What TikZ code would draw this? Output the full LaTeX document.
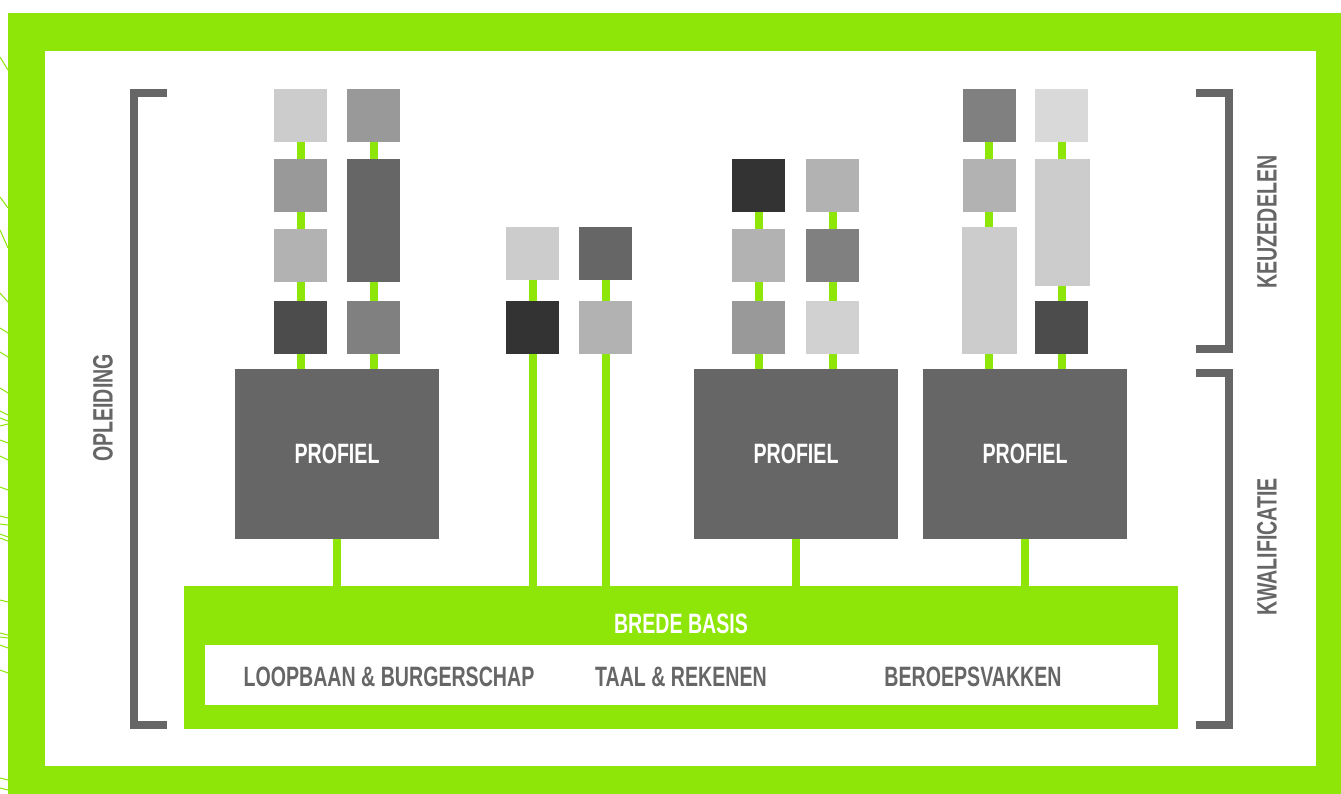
\documentclass[tikz,border=0pt]{standalone}
\usepackage{xcolor}
\usepackage{fontspec}
\usepackage{tikz}

\newfontfamily\condfont[FakeStretch=0.7]{Liberation Sans Bold}
\definecolor{lime}{HTML}{8EE508}
\definecolor{darkgrey}{HTML}{666666}

\begin{document}
\begin{tikzpicture}[x=1pt, y=-1pt,
    blk/.style={minimum width=53pt, minimum height=53pt, inner sep=0pt, outer sep=0pt},
    profiel/.style={fill=darkgrey, text=white, minimum width=204pt, minimum height=170pt, inner sep=0pt, outer sep=0pt, font=\condfont\fontsize{28}{30}\selectfont},
    lbl/.style={text=darkgrey, inner sep=0pt, font=\condfont\fontsize{28}{30}\selectfont},
    link/.style={draw=lime, line width=8pt},
    bracket/.style={draw=darkgrey, line width=8pt}]
    \useasboundingbox (0, 0) rectangle (1341, 794);

    \fill[lime] (8, 13) rectangle (1341, 794);
    \fill[white] (45, 51) rectangle (1316, 766);
    \foreach \ya/\yb in {57/70, 197/208, 230/248, 293/302, 328/333, 352/357, 388/393, 411/415, 418/421, 426/424, 440/443, 456/460, 487/490, 516/518, 524/525, 534/537, 538/541, 600/602, 633/635, 637/638, 645/648, 670/673, 778/780, 788/790}
        \draw[lime, line width=1pt] (0, \ya) -- (8, \yb);

    \draw[bracket] (167, 93) -| (134, 725) -- (167, 725);
    \draw[bracket] (1196, 93) -| (1229, 349) -- (1196, 349);
    \draw[bracket] (1196, 373) -| (1229, 725) -- (1196, 725);

    \node[lbl, rotate=90] at (103, 408) (opl) {OPLEIDING};
    \node[lbl, rotate=90] at (1267, 222) (keuze) {KEUZEDELEN};
    \node[lbl, rotate=90] at (1267, 547) (kwal) {KWALIFICATIE};

    \node[fill=lime, minimum width=994pt, minimum height=143pt, inner sep=0pt, outer sep=0pt] at (681, 657.5) (basis) {};
    \node[fill=white, minimum width=953pt, minimum height=60pt, inner sep=0pt] at (681.5, 675) (vakken) {};
    \node[lbl, text=white] at (681, 624) (brede) {BREDE BASIS};
    \node[lbl] at (389, 677) (lb) {LOOPBAAN \& BURGERSCHAP};
    \node[lbl] at (681, 677) (tr) {TAAL \& REKENEN};
    \node[lbl] at (973, 677) (bv) {BEROEPSVAKKEN};

    \node[profiel] at (337, 454) (p1) {PROFIEL};
    \node[profiel] at (796, 454) (p2) {PROFIEL};
    \node[profiel] at (1025, 454) (p3) {PROFIEL};

    \node[blk, fill=black!20] at (300.5, 115.5) (a1) {};
    \node[blk, fill=black!40] at (300.5, 185.5) (a2) {};
    \node[blk, fill=black!30] at (300.5, 255.5) (a3) {};
    \node[blk, fill=black!70] at (300.5, 327.5) (a4) {};

    \node[blk, fill=black!40] at (373.5, 115.5) (b1) {};
    \node[blk, fill=black!60, minimum height=123pt] at (373.5, 220.5) (b2) {};
    \node[blk, fill=black!50] at (373.5, 327.5) (b3) {};

    \node[blk, fill=black!20] at (532.5, 253.5) (m1) {};
    \node[blk, fill=black!80] at (532.5, 327.5) (m2) {};
    \node[blk, fill=black!60] at (605.5, 253.5) (n1) {};
    \node[blk, fill=black!30] at (605.5, 327.5) (n2) {};

    \node[blk, fill=black!80] at (758.5, 185.5) (e1) {};
    \node[blk, fill=black!30] at (758.5, 255.5) (e2) {};
    \node[blk, fill=black!40] at (758.5, 327.5) (e3) {};

    \node[blk, fill=black!30] at (832.5, 185.5) (f1) {};
    \node[blk, fill=black!50] at (832.5, 255.5) (f2) {};
    \node[blk, fill=black!18] at (832.5, 327.5) (f3) {};

    \node[blk, fill=black!50] at (989, 115.5) (c1) {};
    \node[blk, fill=black!30] at (989, 185.5) (c2) {};
    \node[blk, fill=black!20, minimum width=55pt, minimum height=127pt] at (989.5, 290.5) (c3) {};

    \node[blk, fill=black!15] at (1061.5, 115.5) (d1) {};
    \node[blk, fill=black!20, minimum width=55pt, minimum height=127pt] at (1062.5, 222.5) (d2) {};
    \node[blk, fill=black!70] at (1061.5, 327.5) (d3) {};

    \draw[link] (a1) -- (a2);
    \draw[link] (a2) -- (a3);
    \draw[link] (a3) -- (a4);
    \draw[link] (a4) -- (a4 |- p1.north);
    \draw[link] (b1) -- (b2);
    \draw[link] (b2) -- (b3);
    \draw[link] (b3) -- (b3 |- p1.north);

    \draw[link] (m1) -- (m2);
    \draw[link] (m2) -- (m2 |- basis.north);
    \draw[link] (n1) -- (n2);
    \draw[link] (n2) -- (n2 |- basis.north);

    \draw[link] (e1) -- (e2);
    \draw[link] (e2) -- (e3);
    \draw[link] (e3) -- (e3 |- p2.north);
    \draw[link] (f1) -- (f2);
    \draw[link] (f2) -- (f3);
    \draw[link] (f3) -- (f3 |- p2.north);

    \draw[link] (c1) -- (c2);
    \draw[link] (c2.south -| c1) -- (c3.north -| c1);
    \draw[link] (c3.south -| c1) -- (c1 |- p3.north);
    \draw[link] (d1) -- (d1 |- d2.north);
    \draw[link] (d2.south -| d1) -- (d3);
    \draw[link] (d3) -- (d3 |- p3.north);

    \draw[link] (p1) -- (p1 |- basis.north);
    \draw[link] (p2) -- (p2 |- basis.north);
    \draw[link] (p3) -- (p3 |- basis.north);
\end{tikzpicture}
\end{document}
